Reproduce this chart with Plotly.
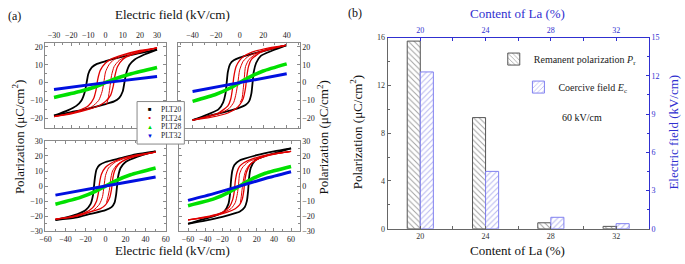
import plotly.graph_objects as go

W, H = 685, 264
FONT = "Liberation Serif"

# ---------------- Panel (a) data: P-E loops ----------------
# Top-left (E max 30 kV/cm)
tl_blk_up_e = [30, 20, 10, 0, -5, -8, -10, -11, -12, -14, -17, -22, -30]
tl_blk_up_p = [18.5, 16.5, 14.5, 12, 10.5, 8.5, 5, 0, -5, -10, -13, -15.5, -18.5]
tl_blk_lo_e = [-30, -20, -10, 0, 5, 8, 10, 11, 12, 14, 17, 22, 30]
tl_blk_lo_p = [-18.5, -16.5, -14.5, -12, -10.5, -8.5, -5, 0, 5, 10, 13, 15.5, 18.5]
tl_red_up_e = [30, 20, 10, 3, 0, -3, -4.5, -5.5, -7, -10, -15, -22, -30]
tl_red_up_p = [19.5, 18, 15.5, 13, 11, 7, 2, -4, -9, -13, -15.5, -17.5, -19]
tl_red_lo_e = [-30, -20, -10, -3, 0, 3, 4.5, 5.5, 7, 10, 15, 22, 30]
tl_red_lo_p = [-19, -17.5, -15, -12.5, -10.5, -7, -2, 4, 9, 13, 15.5, 17.5, 19.5]
tl_rin_up_e = [30, 15, 5, 2, 0, -1, -2, -4, -8, -15, -30]
tl_rin_up_p = [19.5, 16.5, 13, 10, 6, 0, -5, -10, -13.5, -16, -19]
tl_rin_lo_e = [0.5, 1.5, 2.5, 3.5, 5, 8, 15, 30]
tl_rin_lo_p = [-12.5, -9, -3, 4, 9, 12.5, 16, 19.5]
tl_grn_e = [-30, -15, -5, 0, 5, 15, 30]
tl_grn_p = [-8.3, -5, -2, 0, 2, 5, 8.5]
tl_blu_e = [-30, 0, 30]
tl_blu_p = [-3.8, 0, 3.5]

# Top-right (E max 40 kV/cm)
tr_blk_up_e = [40, 25, 10, 0, -5, -8, -10, -11, -12, -14, -18, -28, -40]
tr_blk_up_p = [21, 18.5, 16, 14, 12.5, 10.5, 6, 0, -6, -11, -15, -18, -21]
tr_blk_lo_e = [-40, -25, -10, 0, 5, 8, 10, 11, 12, 14, 18, 28, 40]
tr_blk_lo_p = [-21, -18.5, -16, -14, -12.5, -10.5, -6, 0, 6, 11, 15, 18, 21]
tr_red_up_e = [40, 25, 10, 3, 0, -3, -5, -6, -7.5, -10, -18, -28, -40]
tr_red_up_p = [21, 19.5, 17, 14.5, 12.5, 9, 3, -3, -9, -13, -17, -19, -21]
tr_red_lo_e = [-40, -25, -10, -3, 0, 3, 5, 6, 7.5, 10, 18, 28, 40]
tr_red_lo_p = [-21, -19.5, -17, -14.5, -12.5, -9, -3, 3, 9, 13, 17, 19, 21]
tr_rin_up_e = [40, 20, 8, 3, 0, -1.5, -3, -5, -9, -18, -40]
tr_rin_up_p = [21, 18, 15, 12, 7, 0, -6, -11, -14.5, -17.5, -21]
tr_rin_lo_e = [0.5, 2, 3, 4, 5, 8, 15, 25, 40]
tr_rin_lo_p = [-11, -9, -4, 3, 9, 13, 16.5, 19, 21]
tr_grn_e = [-40, -20, -8, 0, 8, 20, 40]
tr_grn_p = [-10.5, -6.5, -3, 0, 3, 6.5, 10.5]
tr_blu_e = [-40, 0, 40]
tr_blu_p = [-5, 0, 5]

# Bottom-left (E max 50 kV/cm)
bl_blk_up_e = [50, 30, 15, 0, -6, -9, -10.5, -11.5, -12.5, -15, -20, -32, -50]
bl_blk_up_p = [23, 21, 18.5, 16, 14, 11, 6, 0, -6, -12, -16, -19.5, -22.5]
bl_blk_lo_e = [-50, -30, -15, 0, 6, 9, 10.5, 11.5, 12.5, 15, 20, 32, 50]
bl_blk_lo_p = [-22.5, -21, -18.5, -16, -14, -11, -6, 0, 6, 12, 16, 19.5, 23]
bl_red_up_e = [50, 30, 15, 5, 0, -4, -6, -7, -9, -13, -20, -32, -50]
bl_red_up_p = [22.5, 20.5, 18, 15, 12.5, 8, 2, -4, -10, -14.5, -17.5, -20, -22]
bl_red_lo_e = [-50, -32, -20, -5, 0, 4, 6, 7, 9, 13, 20, 32, 50]
bl_red_lo_p = [-22, -20.5, -18, -15, -12.5, -8, -2, 4, 10, 14.5, 17.5, 20, 22.5]
bl_rin_up_e = [50, 25, 10, 3, 0, -1.5, -3, -6, -12, -25, -50]
bl_rin_up_p = [22.5, 19.5, 16, 12, 7, 0, -7, -12, -16, -19.5, -22]
bl_rin_lo_e = [1, 2.5, 4, 5, 7, 12, 25, 50]
bl_rin_lo_p = [-11, -7, -2, 4, 10, 14.5, 19, 22.5]
bl_grn_e = [-50, -25, -10, 0, 10, 25, 50]
bl_grn_p = [-12, -7.5, -3.5, 0, 3.5, 7.5, 12]
bl_blu_e = [-50, 0, 50]
bl_blu_p = [-6, 0, 6]

# Bottom-right (E max 60 kV/cm)
br_blk_up_e = [60, 40, 20, 5, 0, -6, -8.5, -10, -11, -13, -18, -30, -45, -60]
br_blk_up_p = [25, 23, 20.5, 18, 17, 14, 10, 3, -5, -12, -17, -20, -22.5, -25]
br_blk_lo_e = [-60, -40, -20, -5, 0, 6, 8.5, 10, 11, 13, 18, 30, 45, 60]
br_blk_lo_p = [-25, -23, -20.5, -18, -17, -14, -10, -3, 5, 12, 17, 20, 22.5, 25]
br_red_up_e = [60, 35, 15, 5, 0, -3, -5, -6, -8, -12, -20, -35, -60]
br_red_up_p = [23, 21, 18, 15.5, 13, 9, 3, -3, -9, -14, -17.5, -20, -22.5]
br_red_lo_e = [-60, -35, -15, -5, 0, 3, 5, 6, 8, 12, 20, 35, 60]
br_red_lo_p = [-22.5, -20.5, -17.5, -15, -12.5, -9, -3, 3, 9, 14, 17.5, 20.5, 23]
br_rin_up_e = [60, 30, 10, 3, 0, -1, -2.5, -5, -10, -25, -60]
br_rin_up_p = [23, 20, 16, 12, 8, 2, -5, -11, -15, -19, -22.5]
br_rin_lo_e = [1, 2, 3, 4.5, 7, 12, 30, 60]
br_rin_lo_p = [-11, -7, -2, 4, 10, 14.5, 20, 23]
br_grn_e = [-60, -30, -12, 0, 12, 30, 60]
br_grn_p = [-13, -8.5, -4, 0, 4, 8.5, 13]
br_blu_e = [-60, -30, 0, 30, 60]
br_blu_p = [-9.5, -5, 0, 5, 9.5]

legend_names = ["PLT20", "PLT24", "PLT28", "PLT32"]

# ---------------- Panel (b) data ----------------
la_content = [20, 24, 28, 32]
pr_values = [15.7, 9.3, 0.5, 0.2]   # remanent polarization, uC/cm2
ec_values = [12.3, 4.5, 0.9, 0.4]   # coercive field, kV/cm

BLACK, RED, GREEN, BLUE = "#000000", "#e00000", "#00e000", "#0010e0"
AXBLUE = "#3030d0"


def px_x(p):
    return p / W


def px_y(p):
    return 1 - p / H


fig = go.Figure()

panels = [
    ("x", "y", (tl_blk_up_e, tl_blk_up_p, tl_blk_lo_e, tl_blk_lo_p, tl_red_up_e, tl_red_up_p, tl_red_lo_e, tl_red_lo_p,
                tl_rin_up_e, tl_rin_up_p, tl_rin_lo_e, tl_rin_lo_p, tl_grn_e, tl_grn_p, tl_blu_e, tl_blu_p)),
    ("x2", "y2", (tr_blk_up_e, tr_blk_up_p, tr_blk_lo_e, tr_blk_lo_p, tr_red_up_e, tr_red_up_p, tr_red_lo_e, tr_red_lo_p,
                  tr_rin_up_e, tr_rin_up_p, tr_rin_lo_e, tr_rin_lo_p, tr_grn_e, tr_grn_p, tr_blu_e, tr_blu_p)),
    ("x3", "y3", (bl_blk_up_e, bl_blk_up_p, bl_blk_lo_e, bl_blk_lo_p, bl_red_up_e, bl_red_up_p, bl_red_lo_e, bl_red_lo_p,
                  bl_rin_up_e, bl_rin_up_p, bl_rin_lo_e, bl_rin_lo_p, bl_grn_e, bl_grn_p, bl_blu_e, bl_blu_p)),
    ("x4", "y4", (br_blk_up_e, br_blk_up_p, br_blk_lo_e, br_blk_lo_p, br_red_up_e, br_red_up_p, br_red_lo_e, br_red_lo_p,
                  br_rin_up_e, br_rin_up_p, br_rin_lo_e, br_rin_lo_p, br_grn_e, br_grn_p, br_blu_e, br_blu_p)),
]

for xa, ya, d in panels:
    (bue, bup, ble, blp, rue, rup, rle, rlp, iue, iup, ile, ilp, ge, gp, be, bp) = d
    specs = [
        (bue, bup, BLACK, 1.8), (ble, blp, BLACK, 1.8),
        (rue, rup, RED, 1.3), (rle, rlp, RED, 1.3),
        (iue, iup, RED, 1.0), (ile, ilp, RED, 1.0),
        (ge, gp, GREEN, 3.6), (be, bp, BLUE, 3.0),
    ]
    for ex, py, col, lw in specs:
        fig.add_trace(go.Scatter(x=ex, y=py, mode="lines", xaxis=xa, yaxis=ya,
                                 line=dict(color=col, width=lw, shape="spline", smoothing=0.6),
                                 showlegend=False, hoverinfo="skip"))

# Panel (b) bars
fig.add_trace(go.Bar(x=la_content, y=pr_values, xaxis="x5", yaxis="y5", width=0.8, offset=-0.8,
                     name="Remanent polarization <i>P</i><sub>r</sub>", legend="legend",
                     marker=dict(color="white", line=dict(color="#555555", width=1),
                                 pattern=dict(shape="\\", fgcolor="#444444", bgcolor="white", size=4, solidity=0.25))))
fig.add_trace(go.Bar(x=la_content, y=ec_values, xaxis="x6", yaxis="y6", width=0.8, offset=0,
                     name="Coercive field <i>E</i><sub>c</sub>", legend="legend2",
                     marker=dict(color="white", line=dict(color="#8080f0", width=1),
                                 pattern=dict(shape="/", fgcolor="#7070e0", bgcolor="white", size=4, solidity=0.25))))

GRAY = "#8a8a8a"


def a_axis(dom, rng, dtick, side, anchor, minor_dtick):
    return dict(domain=dom, range=rng, dtick=dtick, tick0=0, side=side, anchor=anchor,
                showline=True, linecolor=GRAY, linewidth=1, mirror="allticks",
                ticks="inside", ticklen=3, tickcolor=GRAY, tickwidth=1,
                minor=dict(ticks="inside", ticklen=2, tickcolor=GRAY, dtick=minor_dtick, tick0=0),
                tickfont=dict(family=FONT, size=8, color="#222222"), showgrid=False, zeroline=False,
                ticklabelstandoff=0)


# positions in px
TL_X = [px_x(40), px_x(162)]
TR_X = [px_x(175), px_x(298)]
TOP_Y = [px_y(128), px_y(40)]
BOT_Y = [px_y(235.3), px_y(141.7)]

fig.update_layout(
    xaxis=a_axis(TL_X, [-35, 35], 10, "top", "y", 5),
    yaxis=a_axis(TOP_Y, [-25.2, 22.4], 10, "left", "x", 5),
    xaxis2=a_axis(TR_X, [-52, 51], 20, "top", "y2", 10),
    yaxis2=a_axis(TOP_Y, [-25.2, 22.4], 10, "right", "x2", 5),
    xaxis3=a_axis(TL_X, [-60, 60], 20, "bottom", "y3", 10),
    yaxis3=a_axis(BOT_Y, [-30, 30], 10, "left", "x3", 5),
    xaxis4=a_axis([px_x(176), px_x(298)], [-70, 70], 20, "bottom", "y4", 10),
    yaxis4=a_axis(BOT_Y, [-30, 30], 10, "right", "x4", 5),
)

B_X = [px_x(387.3), px_x(652.3)]
B_Y = [px_y(232.7), px_y(34.7)]
BGRAY = "#666666"
fig.update_layout(
    xaxis5=dict(domain=B_X, range=[18, 34], anchor="y5", side="bottom", tickmode="linear", tick0=20, dtick=4,
                showline=True, linecolor=BGRAY, ticks="inside", ticklen=3, tickcolor=BGRAY,
                minor=dict(ticks="inside", ticklen=3, tickcolor=BGRAY, dtick=2, tick0=20),
                tickfont=dict(family=FONT, size=8, color="#333333"), showgrid=False, zeroline=False),
    yaxis5=dict(domain=B_Y, range=[0, 16], anchor="x5", side="left", tickmode="linear", tick0=0, dtick=4,
                showline=True, linecolor=BGRAY, ticks="inside", ticklen=3, tickcolor=BGRAY,
                minor=dict(ticks="inside", ticklen=2, tickcolor=BGRAY, dtick=2, tick0=0),
                tickfont=dict(family=FONT, size=8, color="#333333"), showgrid=False, zeroline=False),
    xaxis6=dict(domain=B_X, range=[18, 34], anchor="y6", overlaying="x5", side="top", tickmode="linear", tick0=20, dtick=4,
                showline=True, linecolor=AXBLUE, ticks="inside", ticklen=3, tickcolor=AXBLUE,
                minor=dict(ticks="inside", ticklen=3, tickcolor=AXBLUE, dtick=2, tick0=20),
                tickfont=dict(family=FONT, size=8, color=AXBLUE), showgrid=False, zeroline=False),
    yaxis6=dict(domain=B_Y, range=[0, 15], anchor="x6", overlaying="y5", side="right", tickmode="linear", tick0=0, dtick=3,
                showline=True, linecolor=AXBLUE, ticks="inside", ticklen=3, tickcolor=AXBLUE,
                minor=dict(ticks="inside", ticklen=2, tickcolor=AXBLUE, dtick=1.5, tick0=0),
                tickfont=dict(family=FONT, size=8, color=AXBLUE), showgrid=False, zeroline=False),
)

annotations = [
    dict(x=px_x(9), y=px_y(12), text="(a)", font=dict(size=12)),
    dict(x=px_x(354), y=px_y(9), text="(b)", font=dict(size=12)),
    dict(x=px_x(169), y=px_y(11), text="Electric field (kV/cm)", font=dict(size=13), xanchor="center"),
    dict(x=px_x(169), y=px_y(255), text="Electric field (kV/cm)", font=dict(size=13), xanchor="center"),
    dict(x=px_x(13), y=px_y(138), text="Polarization (μC/cm<sup>2</sup>)", font=dict(size=13), textangle=-90,
         xanchor="center"),
    dict(x=px_x(322), y=px_y(138), text="Polarization (μC/cm<sup>2</sup>)", font=dict(size=13), textangle=-90,
         xanchor="center"),
    dict(x=px_x(519), y=px_y(10), text="Content of La (%)", font=dict(size=13, color=AXBLUE), xanchor="center"),
    dict(x=px_x(519), y=px_y(255), text="Content of La (%)", font=dict(size=13), xanchor="center"),
    dict(x=px_x(356), y=px_y(133), text="Polarization (μC/cm<sup>2</sup>)", font=dict(size=13), textangle=-90,
         xanchor="center"),
    dict(x=px_x(677), y=px_y(133), text="Electric field (kV/cm)", font=dict(size=13, color=AXBLUE), textangle=-90,
         xanchor="center"),
    dict(x=px_x(585), y=px_y(118), text="60 kV/cm", font=dict(size=10), xanchor="center"),
]
# legend of panel (a)
marks = ["■", "•", "▲", "▼"]
mcols = [BLACK, RED, GREEN, BLUE]
rows = [109, 118.3, 127.3, 136.5]
for name, mk, col, ry in zip(legend_names, marks, mcols, rows):
    annotations.append(dict(x=px_x(146), y=px_y(ry), text=mk, font=dict(size=6 if mk != "•" else 9, color=col),
                            xanchor="center"))
    annotations.append(dict(x=px_x(155), y=px_y(ry), text=name, font=dict(size=7.5, color="#222222"),
                            xanchor="left"))
for a in annotations:
    a.setdefault("xref", "paper")
    a.setdefault("yref", "paper")
    a.setdefault("showarrow", False)
    a.setdefault("xanchor", "center")
    a.setdefault("yanchor", "middle")
    f = a["font"]
    f.setdefault("family", FONT)
    f.setdefault("color", "#111111")

fig.update_layout(
    annotations=annotations,
    shapes=[dict(type="rect", xref="paper", yref="paper", x0=px_x(133), x1=px_x(181), y0=px_y(145), y1=px_y(101),
                 line=dict(color="#888888", width=1), fillcolor="white", layer="above")],
    legend=dict(x=px_x(495), y=px_y(57), xanchor="left", yanchor="middle", bgcolor="rgba(0,0,0,0)",
                font=dict(family=FONT, size=10, color="#222222"), itemwidth=30),
    legend2=dict(x=px_x(520), y=px_y(86), xanchor="left", yanchor="middle", bgcolor="rgba(0,0,0,0)",
                 font=dict(family=FONT, size=10, color="#222222"), itemwidth=30),
    width=W, height=H, margin=dict(l=0, r=0, t=0, b=0),
    paper_bgcolor="white", plot_bgcolor="white",
    font=dict(family=FONT, color="#111111"),
)

fig.write_html("out.html", config={"displayModeBar": False},
               post_script="document.body.style.margin='0';document.body.style.overflow='hidden';")
